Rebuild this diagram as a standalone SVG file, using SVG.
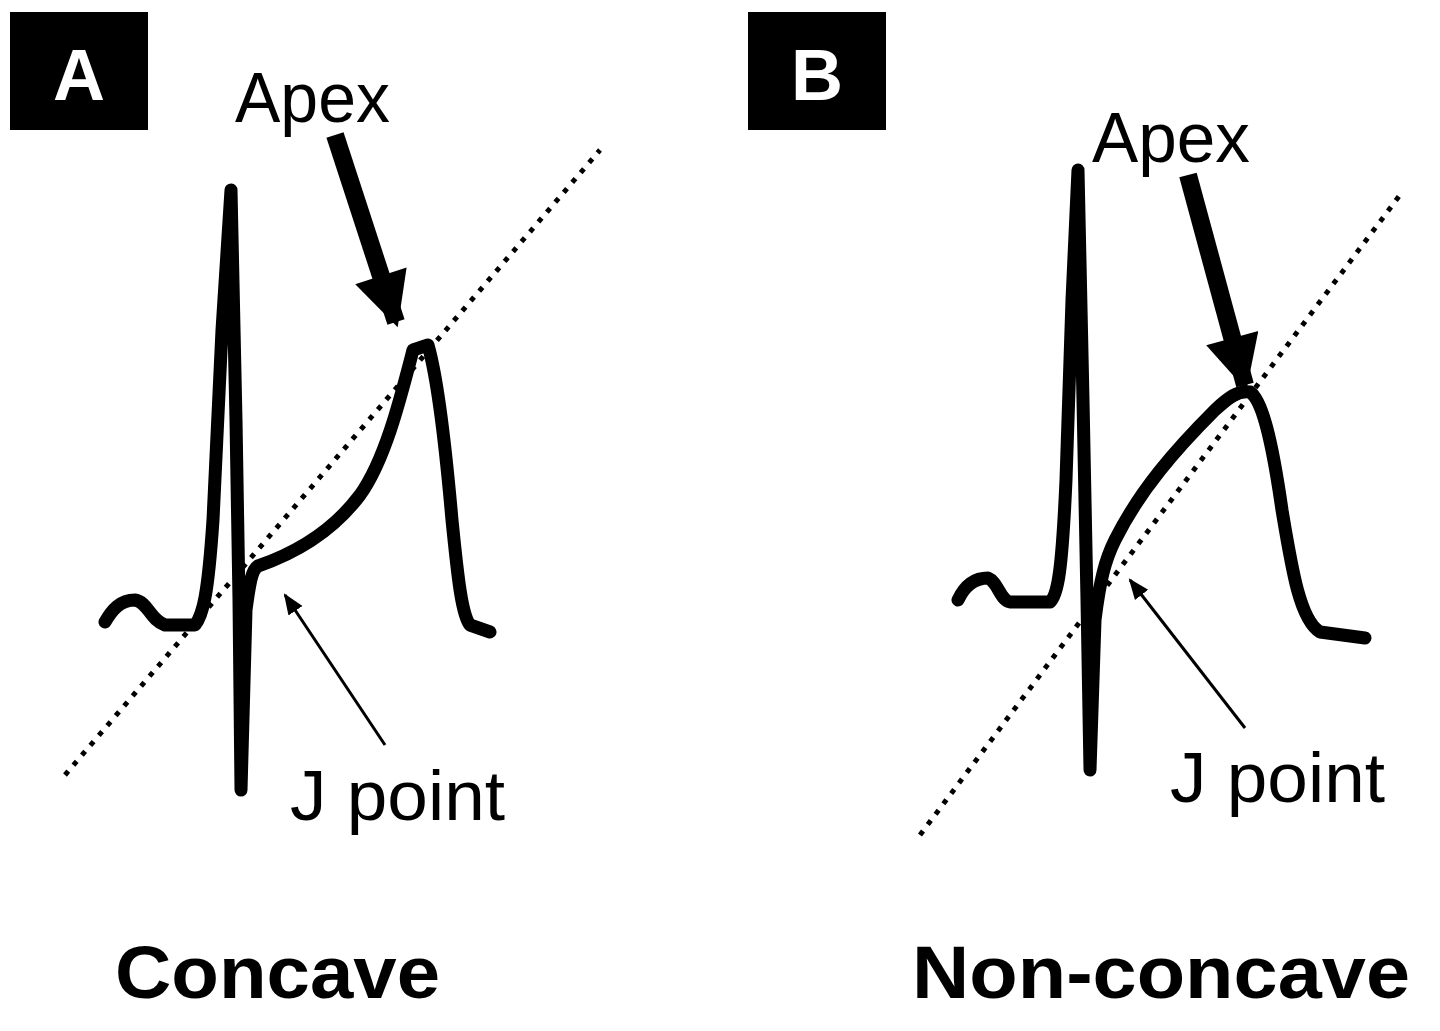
<svg xmlns="http://www.w3.org/2000/svg" width="1440" height="1031" viewBox="0 0 1440 1031">
<defs>
<style>
.lbl{font-family:"Liberation Sans",Arial,sans-serif;fill:#000}
.box{fill:#000}
.boxt{font-family:"Liberation Sans",Arial,sans-serif;font-weight:bold;font-size:72px;fill:#fff;text-anchor:middle}
.trace{fill:none;stroke:#000;stroke-width:13;stroke-linejoin:round;stroke-linecap:round}
.dot{fill:none;stroke:#000;stroke-width:5;stroke-dasharray:5 8}
.thin{stroke:#000;stroke-width:3}
.thick{stroke:#000;stroke-width:18}
</style>
<marker id="thinHead" viewBox="0 0 10 10" refX="9" refY="5" markerWidth="7" markerHeight="7" orient="auto" markerUnits="strokeWidth"><path d="M0,1 L10,5 L0,9 Z" fill="#000"/></marker>
<marker id="bigHead" viewBox="0 0 10 10" refX="9" refY="5" markerWidth="3.6" markerHeight="3" orient="auto" markerUnits="strokeWidth"><path d="M0,0 L10,5 L0,10 Z" fill="#000"/></marker>
</defs>
<rect width="1440" height="1031" fill="#fff"/>
<g id="panelA">
<rect class="box" x="10" y="12" width="138" height="118"/>
<text class="boxt" x="79" y="100">A</text>
<text class="lbl" x="235" y="122" font-size="70" textLength="155" lengthAdjust="spacingAndGlyphs">Apex</text>
<line class="dot" x1="65" y1="775" x2="600" y2="150"/>
<path class="trace" d="M105,622 C112,610 120,600 135,600 C148,602 150,620 165,625 L195,625 C203,615 208,595 213,520 L222,330 L231,190 L236,420 L239,600 L241,790 L246,610 C250,580 252,570 258,566 C290,555 330,535 360,495 C385,460 400,400 413,350 L428,345 C438,380 445,440 452,520 C458,580 462,615 470,625 L490,632"/>
<line class="thick" x1="335" y1="135" x2="396" y2="322" marker-end="url(#bigHead)"/>
<line class="thin" x1="385" y1="745" x2="285" y2="595" marker-end="url(#thinHead)"/>
<text class="lbl" x="290" y="820" font-size="70" textLength="215" lengthAdjust="spacingAndGlyphs">J point</text>
<text class="lbl" x="115" y="998" font-size="74" font-weight="bold" textLength="325" lengthAdjust="spacingAndGlyphs">Concave</text>
</g>
<g id="panelB">
<rect class="box" x="748" y="12" width="138" height="118"/>
<text class="boxt" x="817" y="100">B</text>
<text class="lbl" x="1092" y="162" font-size="70" textLength="158" lengthAdjust="spacingAndGlyphs">Apex</text>
<line class="dot" x1="920" y1="835" x2="1400" y2="195"/>
<path class="trace" d="M958,600 C965,585 975,578 988,578 C998,582 1000,600 1010,602 L1050,602 C1058,595 1062,570 1066,480 L1072,300 L1078,170 L1083,400 L1087,600 L1090,770 L1095,620 C1100,580 1105,560 1115,540 C1140,490 1175,450 1215,410 C1228,398 1238,390 1250,392 C1262,400 1272,440 1282,510 C1292,570 1300,620 1320,632 L1365,638"/>
<line class="thick" x1="1188" y1="175" x2="1245" y2="385" marker-end="url(#bigHead)"/>
<line class="thin" x1="1245" y1="728" x2="1130" y2="580" marker-end="url(#thinHead)"/>
<text class="lbl" x="1170" y="802" font-size="70" textLength="215" lengthAdjust="spacingAndGlyphs">J point</text>
<text class="lbl" x="912" y="998" font-size="74" font-weight="bold" textLength="498" lengthAdjust="spacingAndGlyphs">Non-concave</text>
</g>
</svg>
